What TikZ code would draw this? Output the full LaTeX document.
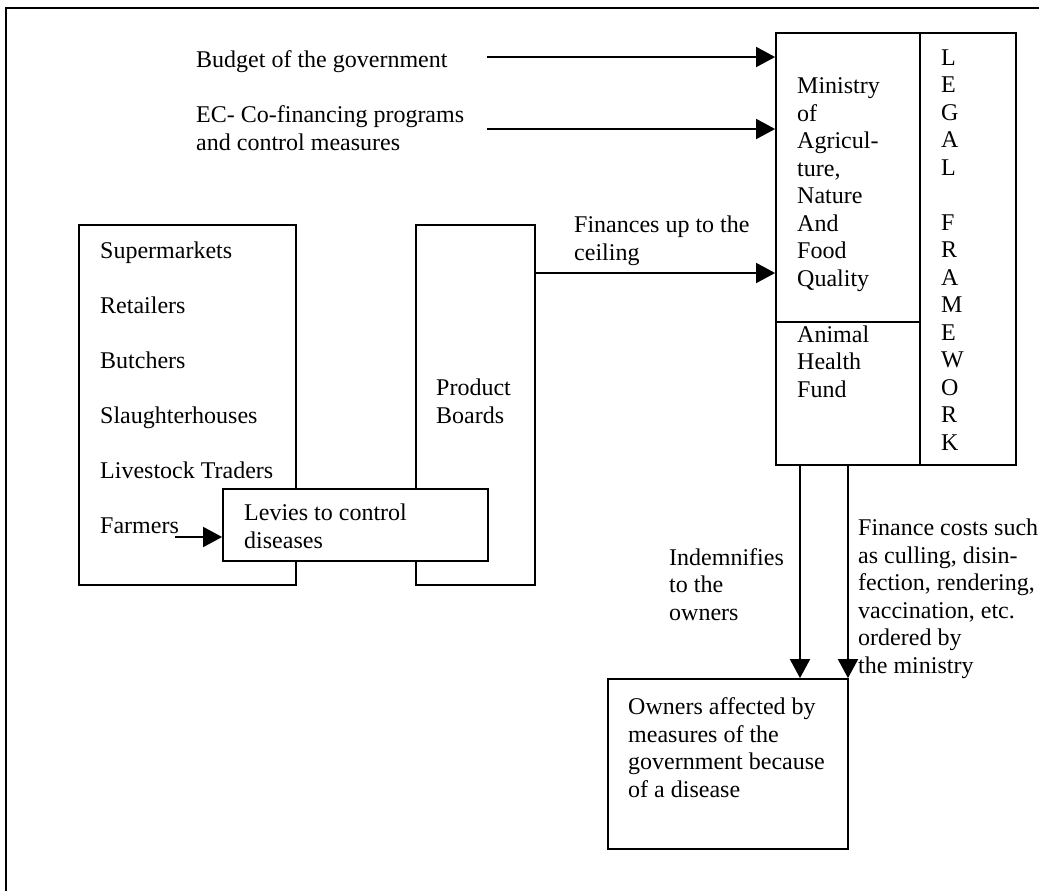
\documentclass[tikz,border=0pt]{standalone}
\usepackage{fontspec}
\setmainfont{Liberation Serif}
\usetikzlibrary{arrows.meta}
\begin{document}
\begin{tikzpicture}[x=1pt,y=-1pt,
  box/.style={draw,line width=1.8pt,minimum width=#1,inner sep=0pt},
  txt/.style={inner sep=0pt,anchor=base west,align=left,font=\fontsize{24}{27.5}\selectfont},
  arr/.style={line width=1.8pt,-{Triangle[length=19pt,width=20pt]}}]
\useasboundingbox (0,0) rectangle (1039,891);
\draw[line width=2.2pt] (6,891) -- (6,8) -- (1039,8);
% boxes
\node[box=217pt,minimum height=360pt] (sup) at (187.5,405) {};
\node[box=119pt,minimum height=360pt] (pb) at (475.5,405) {};
\node[box=265pt,minimum height=72pt,fill=white] (lev) at (355.5,525) {};
\node[box=144pt,minimum height=432pt] (min) at (848,249) {};
\node[box=96pt,minimum height=432pt] (legal) at (968,249) {};
\node[box=144pt,minimum height=143pt] (ahf) at (848,393.5) {};
\node[box=240pt,minimum height=170pt] (own) at (728,764) {};
% texts (anchor = baseline of the last line)
\node[txt] (tbud) at (196,68) {Budget of the government};
\node[txt] (tec) at (196,150) {EC- Co-financing programs\\and control measures};
\node[txt] (tfin) at (574,260) {Finances up to the\\ceiling};
\node[txt] (tmin) at (797,286) {Ministry\\of\\Agricul-\\ture,\\Nature\\And\\Food\\Quality};
\node[txt] (tahf) at (797,397) {Animal\\Health\\Fund};
\node[txt] (tlegal) at (941,450) {L\\E\\G\\A\\L\\[27.5pt]F\\R\\A\\M\\E\\W\\O\\R\\K};
\node[txt,font=\fontsize{24}{55}\selectfont] (tsup) at (100,533) {Supermarkets\\Retailers\\Butchers\\Slaughterhouses\\Livestock Traders\\Farmers};
\node[txt] (tpb) at (436,423) {Product\\Boards};
\node[txt] (tlev) at (244,548) {Levies to control\\diseases};
\node[txt] (tind) at (669,620) {Indemnifies\\to the\\owners};
\node[txt] (tcost) at (858,673) {Finance costs such\\as culling, disin-\\fection, rendering,\\vaccination, etc.\\ordered by\\the ministry};
\node[txt] (town) at (628,797) {Owners affected by\\measures of the\\government because\\of a disease};
% connectors
\coordinate (s1) at (487,57);
\coordinate (s2) at (487,129);
\coordinate (s3) at (175,537);
\coordinate (d1) at (800,0);
\coordinate (d2) at (848,0);
\coordinate (f1) at (0,273);
\draw[arr] (s1) -- (s1 -| min.west);
\draw[arr] (s2) -- (s2 -| min.west);
\draw[arr] (pb.east |- f1) -- (min.west |- f1);
\draw[arr] (s3) -- (s3 -| lev.west);
\draw[arr] (min.south -| d1) -- (own.north -| d1);
\draw[arr] (min.south -| d2) -- (own.north -| d2);
\end{tikzpicture}
\end{document}
